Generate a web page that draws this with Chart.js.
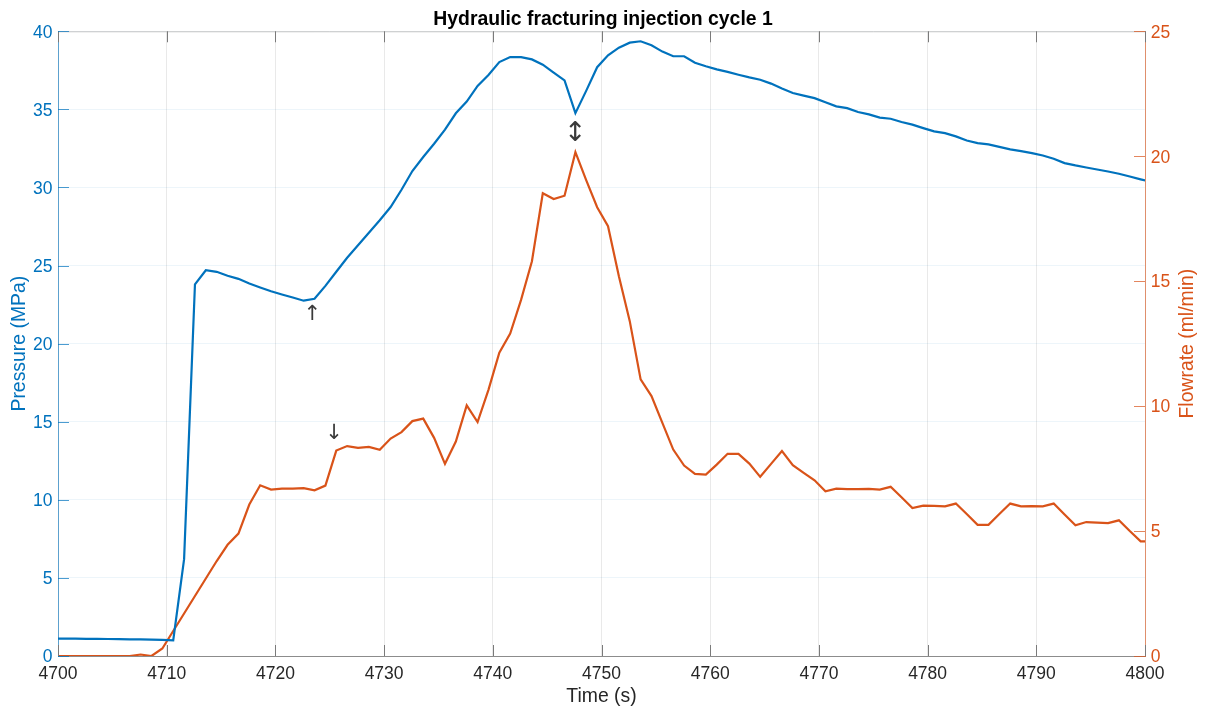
<!DOCTYPE html>
<html>
<head>
<meta charset="utf-8">
<script src="https://cdn.jsdelivr.net/npm/chart.js@4/dist/chart.umd.min.js"></script>
<style>
  html, body { margin: 0; padding: 0; background: #fff; }
  #wrap { width: 1206px; height: 709px; }
</style>
</head>
<body>
<div id="wrap"><canvas id="cycle"></canvas></div>
<script>
// sample times (s)
var time = [
  4699.6, 4700.6, 4701.6, 4702.6, 4703.6, 4704.6, 4705.6, 4706.6, 4707.6, 4708.6,
  4709.6, 4710.6, 4711.6, 4712.6, 4713.6, 4714.6, 4715.6, 4716.6, 4717.6, 4718.6,
  4719.6, 4720.6, 4721.6, 4722.6, 4723.6, 4724.6, 4725.6, 4726.6, 4727.6, 4728.6,
  4729.6, 4730.6, 4731.6, 4732.6, 4733.6, 4734.6, 4735.6, 4736.6, 4737.6, 4738.6,
  4739.6, 4740.6, 4741.6, 4742.6, 4743.6, 4744.6, 4745.6, 4746.6, 4747.6, 4748.6,
  4749.6, 4750.6, 4751.6, 4752.6, 4753.6, 4754.6, 4755.6, 4756.6, 4757.6, 4758.6,
  4759.6, 4760.6, 4761.6, 4762.6, 4763.6, 4764.6, 4765.6, 4766.6, 4767.6, 4768.6,
  4769.6, 4770.6, 4771.6, 4772.6, 4773.6, 4774.6, 4775.6, 4776.6, 4777.6, 4778.6,
  4779.6, 4780.6, 4781.6, 4782.6, 4783.6, 4784.6, 4785.6, 4786.6, 4787.6, 4788.6,
  4789.6, 4790.6, 4791.6, 4792.6, 4793.6, 4794.6, 4795.6, 4796.6, 4797.6, 4798.6,
  4799.6, 4800.6
];

// injection pressure (MPa)
var pressure = [
  1.12, 1.11, 1.11, 1.10, 1.10, 1.09, 1.08, 1.07, 1.06, 1.05,
  1.03, 1.00, 6.20, 23.8, 24.7, 24.6, 24.35, 24.15, 23.85, 23.6,
  23.35, 23.15, 22.95, 22.75, 22.87, 23.7, 24.6, 25.5, 26.3, 27.1,
  27.9, 28.75, 29.85, 31.05, 31.95, 32.8, 33.7, 34.75, 35.5, 36.5,
  37.2, 38.03, 38.35, 38.35, 38.2, 37.86, 37.35, 36.86, 34.76, 36.2,
  37.7, 38.46, 38.95, 39.27, 39.36, 39.1, 38.7, 38.4, 38.4, 37.99,
  37.76, 37.56, 37.4, 37.22, 37.05, 36.9, 36.65, 36.33, 36.05, 35.88,
  35.72, 35.45, 35.19, 35.08, 34.83, 34.68, 34.47, 34.4, 34.19, 34.02,
  33.8, 33.59, 33.48, 33.27, 33.01, 32.84, 32.76, 32.6, 32.44, 32.33,
  32.2, 32.05, 31.84, 31.56, 31.41, 31.28, 31.15, 31.02, 30.88, 30.7,
  30.52, 30.35
];

// pump flowrate (ml/min)
var flowrate = [
  0, 0, 0, 0, 0, 0, 0, 0, 0.06, 0,
  0.3, 1.0, 1.7, 2.4, 3.1, 3.8, 4.45, 4.9, 6.06, 6.83,
  6.66, 6.7, 6.7, 6.72, 6.63, 6.82, 8.22, 8.4, 8.33, 8.37,
  8.25, 8.7, 8.96, 9.4, 9.5, 8.73, 7.69, 8.58, 10.03, 9.36,
  10.65, 12.14, 12.9, 14.25, 15.8, 18.52, 18.29, 18.42, 20.16, 19.03,
  17.96, 17.2, 15.2, 13.4, 11.07, 10.4, 9.33, 8.26, 7.62, 7.29,
  7.26, 7.66, 8.09, 8.09, 7.7, 7.17, 7.69, 8.2, 7.64, 7.33,
  7.03, 6.59, 6.7, 6.68, 6.68, 6.69, 6.66, 6.77, 6.35, 5.92,
  6.02, 6.01, 5.99, 6.1, 5.68, 5.25, 5.25, 5.68, 6.1, 5.99,
  6.0, 5.99, 6.1, 5.66, 5.23, 5.36, 5.34, 5.32, 5.43, 5.0,
  4.59, 4.59
];

// arrow markers: glyph, time, value, axis the value belongs to
var markText  = ['\u2191', '\u2193', '\u2195'];
var markTime  = [4723.4, 4725.4, 4747.6];
var markValue = [21.85, 8.9, 33.4];
var markAxis  = ['y', 'y1', 'y'];

var BLUE = '#0072BD', ORANGE = '#D95319', INK = '#262626';
var FONT = "'Liberation Sans', Arial, sans-serif";

function pts(ys) {
  var out = [];
  for (var i = 0; i < time.length; i++) out.push({x: time[i], y: ys[i]});
  return out;
}

function plain(v) { return String(v); }

// MATLAB style axes: inward ticks, top box edge, right label, arrow markers
var axesDecor = {
  id: 'axesDecor',
  afterDraw: function(chart) {
    var ctx = chart.ctx, a = chart.chartArea;
    var sx = chart.scales.x, sy = chart.scales.y, sy1 = chart.scales.y1;
    var L = 11, i, p;
    ctx.save();
    ctx.lineWidth = 1;

    // top edge of box
    ctx.strokeStyle = '#c4c4c4';
    ctx.beginPath();
    ctx.moveTo(a.left, a.top + 0.5);
    ctx.lineTo(a.right, a.top + 0.5);
    ctx.stroke();

    // x ticks, bottom and top
    ctx.strokeStyle = '#7a7a7a';
    ctx.beginPath();
    sx.ticks.forEach(function(t) {
      p = Math.round(sx.getPixelForValue(t.value)) + 0.5;
      ctx.moveTo(p, a.bottom); ctx.lineTo(p, a.bottom - L);
      ctx.moveTo(p, a.top); ctx.lineTo(p, a.top + L);
    });
    ctx.stroke();

    // left ticks
    ctx.strokeStyle = 'rgba(0,114,189,0.7)';
    ctx.beginPath();
    sy.ticks.forEach(function(t) {
      p = Math.round(sy.getPixelForValue(t.value)) + 0.5;
      ctx.moveTo(a.left, p); ctx.lineTo(a.left + L, p);
    });
    ctx.stroke();

    // right ticks
    ctx.strokeStyle = 'rgba(217,83,25,0.7)';
    ctx.beginPath();
    sy1.ticks.forEach(function(t) {
      p = Math.round(sy1.getPixelForValue(t.value)) + 0.5;
      ctx.moveTo(a.right, p); ctx.lineTo(a.right - L, p);
    });
    ctx.stroke();

    // right axis label, reading upwards
    ctx.fillStyle = ORANGE;
    ctx.font = '19.4px ' + FONT;
    ctx.textAlign = 'center';
    ctx.textBaseline = 'middle';
    ctx.translate(1188, (a.top + a.bottom) / 2);
    ctx.rotate(-Math.PI / 2);
    ctx.fillText('Flowrate (ml/min)', 0, 0);
    ctx.setTransform(1, 0, 0, 1, 0, 0);

    // arrow markers
    ctx.fillStyle = '#3a3a3a';
    for (i = 0; i < markText.length; i++) {
      ctx.font = (markText[i] === '\u2195' ? '27px' : '21px') + " 'DejaVu Sans', sans-serif";
      var px = sx.getPixelForValue(markTime[i]);
      var py = chart.scales[markAxis[i]].getPixelForValue(markValue[i]);
      ctx.fillText(markText[i], px, py);
    }
    ctx.restore();
  }
};

new Chart(document.getElementById('cycle'), {
  type: 'line',
  data: {
    datasets: [
      {label: 'Pressure', data: pts(pressure), yAxisID: 'y',
       borderColor: BLUE, borderWidth: 2.2, pointRadius: 0, tension: 0},
      {label: 'Flowrate', data: pts(flowrate), yAxisID: 'y1',
       borderColor: ORANGE, borderWidth: 2.2, pointRadius: 0, tension: 0}
    ]
  },
  plugins: [axesDecor],
  options: {
    responsive: true,
    maintainAspectRatio: false,
    animation: false,
    layout: {padding: 0},
    plugins: {
      legend: {display: false},
      tooltip: {enabled: false},
      title: {
        display: true,
        text: 'Hydraulic fracturing injection cycle 1',
        color: '#000',
        font: {family: FONT, size: 19.4, weight: 'bold'},
        padding: {top: 8, bottom: 0}
      }
    },
    scales: {
      x: {
        type: 'linear', min: 4700, max: 4800,
        afterFit: function(s) { s.height = 53; },
        ticks: {stepSize: 10, color: INK, padding: 8, callback: plain,
                font: {family: FONT, size: 17.5}},
        grid: {color: 'rgba(38,38,38,0.1)', drawTicks: false},
        border: {color: '#8c8c8c'},
        title: {display: true, text: 'Time (s)', color: INK,
                font: {family: FONT, size: 19.4}, padding: {top: 0, bottom: 0.4}}
      },
      y: {
        position: 'left', min: 0, max: 40,
        afterFit: function(s) { s.width = 58; },
        ticks: {stepSize: 5, color: BLUE, padding: 5.5, labelOffset: 1.5,
                callback: plain, font: {family: FONT, size: 17.5}},
        grid: {color: 'rgba(0,114,189,0.07)', drawTicks: false},
        border: {color: 'rgba(0,114,189,0.6)'},
        title: {display: true, text: 'Pressure (MPa)', color: BLUE,
                font: {family: FONT, size: 19.4}, padding: {top: 7.9, bottom: 0}}
      },
      y1: {
        position: 'right', min: 0, max: 25,
        afterFit: function(s) { s.width = 61; },
        ticks: {stepSize: 5, color: ORANGE, padding: 5.7, labelOffset: 1.5,
                callback: plain, font: {family: FONT, size: 17.5}},
        grid: {drawOnChartArea: false, drawTicks: false},
        border: {color: 'rgba(217,83,25,0.6)'}
      }
    }
  }
});
</script>
</body>
</html>
